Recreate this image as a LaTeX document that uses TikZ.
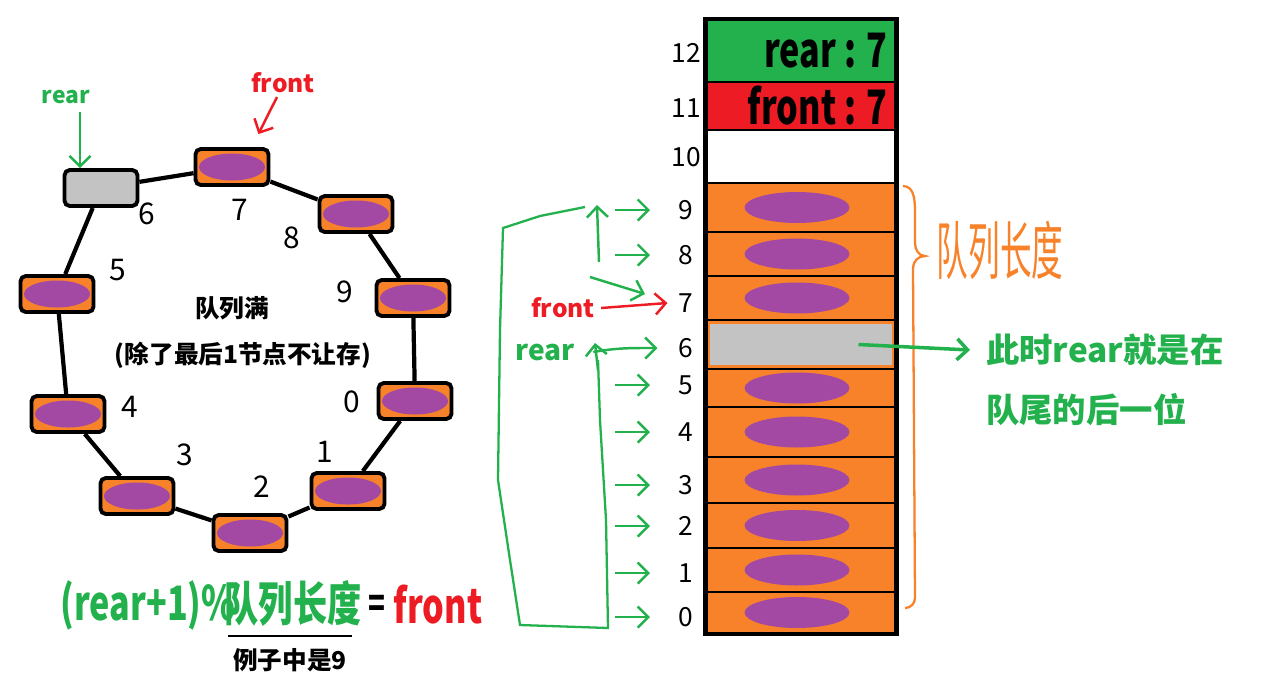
\documentclass[tikz,border=0pt]{standalone}
\usepackage{fontspec}
\setmainfont{Noto Sans CJK SC}
\usetikzlibrary{positioning, arrows.meta, calc}
\definecolor{qgreen}{RGB}{34, 177, 76}
\definecolor{qred}{RGB}{237, 28, 36}
\definecolor{qorange}{RGB}{247, 130, 42}
\definecolor{qpurple}{RGB}{163, 73, 164}
\definecolor{qgray}{RGB}{195, 195, 195}
\tikzset{
  slot/.style={
    draw=black,
    line width=2.2pt,
    rounded corners=3pt,
    fill=qorange,
    minimum width=1.46cm,
    minimum height=0.72cm,
    inner sep=0pt,
    path picture={\fill[qpurple] (path picture bounding box.center) ellipse (0.66cm and 0.27cm);}
  },
  emptyslot/.style={
    slot,
    fill=qgray,
    path picture={}
  },
  link/.style={line width=2.4pt, draw=black},
  cell/.style={
    draw=black,
    line width=1.6pt,
    fill=qorange,
    minimum width=3.78cm,
    inner sep=0pt,
    path picture={\fill[qpurple] ([xshift=-0.08cm]path picture bounding box.center) ellipse (1.05cm and 0.31cm);}
  },
  idx/.style={font=\fontsize{15}{15}\selectfont},
  ringnum/.style={font=\fontsize{17}{17}\selectfont},
  garrow/.style={draw=qgreen, line width=1.4pt, -{Straight Barb[length=6pt, width=12pt]}},
  rarrow/.style={draw=qred, line width=1.4pt, -{Straight Barb[length=6pt, width=12pt]}},
  squeeze/.style={xscale=0.72, transform shape}
}
\begin{document}
\begin{tikzpicture}[x=0.02cm, y=-0.02cm]
  \useasboundingbox (0,0) rectangle (1265,698);

  % ring of slots
  \node[slot] (r7) at (232,167) {};
  \node[slot] (r8) at (356,214) {};
  \node[slot] (r9) at (413,298) {};
  \node[slot] (r0) at (415,401) {};
  \node[slot] (r1) at (348,491) {};
  \node[slot] (r2) at (250,533) {};
  \node[slot] (r3) at (137,496) {};
  \node[slot] (r4) at (68,414) {};
  \node[slot] (r5) at (57,294) {};
  \node[emptyslot] (r6) at (101,188) {};
  \foreach \a/\b in {6/7, 7/8, 8/9, 9/0, 0/1, 1/2, 2/3, 3/4, 4/5, 5/6}
    \draw[link] (r\a) -- (r\b);

  \node[ringnum] (n6) at (147,214) {6};
  \node[ringnum] (n7) at (240,210) {7};
  \node[ringnum] (n8) at (292,238) {8};
  \node[ringnum] (n9) at (345,292) {9};
  \node[ringnum] (n5) at (118,270) {5};
  \node[ringnum] (n4) at (130,407) {4};
  \node[ringnum] (n3) at (185,455) {3};
  \node[ringnum] (n2) at (262,487) {2};
  \node[ringnum] (n1) at (325,452) {1};
  \node[ringnum] (n0) at (352,402) {0};

  \node[text=qgreen, font=\fontsize{13}{13}\selectfont\bfseries] (rearA) at (66,97) {rear};
  \draw[garrow] (80,112) -- (r6.north -| 80,0);
  \node[text=qred, font=\fontsize{14}{14}\selectfont\bfseries] (frontA) at (283,83) {front};
  \draw[rarrow] (277,97) -- ($(r7.north east)+(-12,-13)$);

  \node[font=\fontsize{14}{14}\selectfont\bfseries] (full) at (232,308) {队列满};
  \node[font=\fontsize{14}{14}\selectfont\bfseries] (note) at (243,355) {(除了最后1节点不让存)};

  % formula
  \node[squeeze, text=qgreen, font=\fontsize{27}{27}\selectfont\bfseries] (f1) at (148,605) {(rear+1)\%};
  \node[squeeze, text=qgreen, font=\fontsize{27}{27}\selectfont\bfseries] (f2) at (293,603) {队列长度};
  \node[squeeze, font=\fontsize{22}{22}\selectfont\bfseries] (f3) at (377,606) {=};
  \node[squeeze, text=qred, font=\fontsize{27}{27}\selectfont\bfseries] (f4) at (438,605) {front};
  \draw[line width=1.5pt] (228,636) -- (352,636);
  \node[font=\fontsize{14}{14}\selectfont\bfseries] (eg) at (290,660) {例子中是9};

  % array cells
  \node[cell, fill=qgreen, path picture={}, minimum height=1.24cm] (c12) at (801,51) {};
  \node[cell, fill=qred, path picture={}, minimum height=0.96cm] (c11) at (801,106) {};
  \node[cell, fill=white, path picture={}, minimum height=1.06cm] (c10) at (801,156.5) {};
  \foreach \i/\top/\bot in {9/183/232, 8/232/276, 7/276/320, 5/369/407, 4/407/457,
                            3/457/503, 2/503/548, 1/548/592, 0/592/633}
    \node[cell, minimum height={(\bot-\top)*0.02cm}] (c\i) at (801,{(\top+\bot)/2}) {};
  \node[cell, minimum height=0.98cm,
    path picture={\fill[qgray] ([shift={(2pt,-2pt)}]path picture bounding box.north west)
      rectangle ([shift={(-2pt,2pt)}]path picture bounding box.south east);}] (c6) at (801,344.5) {};
  \draw[line width=2.2pt] (c12.north west) rectangle (c0.south east);

  \node[anchor=east, font=\fontsize{27}{27}\selectfont\bfseries, squeeze] (t12) at ([xshift=-0.1cm]c12.east) {rear : 7};
  \node[anchor=east, font=\fontsize{27}{27}\selectfont\bfseries, squeeze] (t11) at ([xshift=-0.1cm]c11.east) {front : 7};

  % index labels
  \foreach \i/\yy in {12/53, 11/108, 10/157, 9/210, 8/255, 7/303, 6/348,
                      5/385, 4/432, 3/485, 2/526, 1/573, 0/617}
    \node[idx] (l\i) at (686,\yy) {\i};
  \foreach \i in {9, 8, 5, 4, 3, 2, 1, 0}
    \draw[garrow] ([xshift=-1.15cm]l\i.west) -- ([xshift=-0.45cm]l\i.west);

  \node[text=qred, font=\fontsize{14}{14}\selectfont\bfseries] (frontB) at (563,308) {front};
  \draw[rarrow] (frontB.east) -- ([xshift=-0.1cm]l7.west);
  \node[text=qgreen, font=\fontsize{16}{16}\selectfont\bfseries] (rearB) at (545,352) {rear};
  \draw[garrow] ([xshift=0.25cm]rearB.east) to[out=10, in=180] ([xshift=-0.3cm]l6.west);

  % loop back
  \draw[qgreen, line width=1.3pt] (585,207) -- (540,216) -- (503,228) -- (500,330)
    -- (498,480) -- (510,560) -- (520,625) -- (608,628) -- (606,520) -- (600,420) -- (598,360);
  \draw[garrow] (598,370) -- (595,343);
  \draw[garrow] (599,262) -- (597,205);
  \draw[garrow] (590,277) -- (645,294);

  % brace
  \draw[qorange, line width=1.3pt] (903,186) to[out=0, in=90] (915,215) -- (915,243)
    to[out=-90, in=180] (925,256) to[out=180, in=90] (913,268) -- (915,598) to[out=-90, in=0] (905,608);
  \node[text=qorange, font=\fontsize{24}{24}\selectfont, xscale=0.75, yscale=1.5, transform shape] (len) at (1000,250) {队列长度};

  % note
  \node[anchor=west, text=qgreen, font=\fontsize{19}{19}\selectfont\bfseries] (say1) at (980,350) {此时rear就是在};
  \node[anchor=west, text=qgreen, font=\fontsize{19}{19}\selectfont\bfseries] (say2) at (980,410) {队尾的后一位};
  \draw[garrow, line width=2pt] ([xshift=1.15cm]c6.center) -- ([xshift=-0.2cm]say1.west);
\end{tikzpicture}
\end{document}
